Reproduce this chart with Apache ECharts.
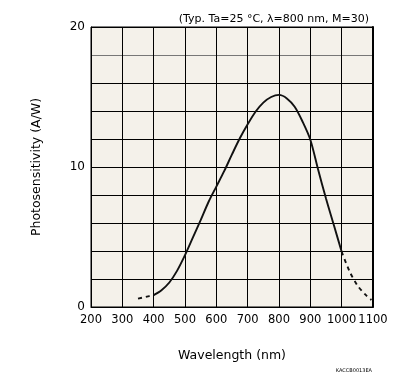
<!DOCTYPE html>
<html><head><meta charset="utf-8">
<script src="https://cdn.jsdelivr.net/npm/echarts@6/dist/echarts.min.js"></script>
<style>html,body{margin:0;padding:0;background:#fff}#c{width:396px;height:380px}</style>
</head><body><div id="c"></div>
<script>
const solidWavelength = [400,425,450,475,500,525,550,575,600,625,650,675,700,725,750,775,800,825,850,875,900,925,950,975,1000];
const solidValue =      [0.85,1.2,1.75,2.6,3.7,4.95,6.2,7.5,8.6,9.7,10.9,12.05,13.05,13.95,14.6,15.0,15.15,14.9,14.3,13.25,11.95,9.8,7.75,5.85,3.95];
const leftDashWavelength = [350,375,400];
const leftDashValue = [0.6,0.72,0.85];
const rightDashWavelength = [1000,1025,1050,1075,1095];
const rightDashValue = [3.95,2.55,1.55,0.9,0.5];
const xTicks = [200,300,400,500,600,700,800,900,1000,1100];
const yLabelTicks = [0,10,20];

const pairs = (xs, ys) => xs.map((x, i) => [x, ys[i]]);
const font = "'DejaVu Sans', Verdana, sans-serif";
const gridColors = ['#000','#000','#000','#000','#000','#000','#000','#000','#000','#777','#000'];

const chart = echarts.init(document.getElementById('c'), null, {renderer: 'canvas'});
chart.setOption({
  animation: false,
  backgroundColor: '#fff',
  title: {
    text: '(Typ. Ta=25 °C, λ=800 nm, M=30)',
    right: 22, top: 9,
    textStyle: {fontFamily: font, fontSize: 11, fontWeight: 'normal', color: '#000'}
  },
  graphic: [{
    type: 'text', right: 24, top: 368,
    style: {text: 'KACCB0013EA', font: '5px ' + font, fill: '#000'}
  }],
  grid: {left: 91, right: 23, top: 27, bottom: 73, show: true, backgroundColor: '#f4f1ea', borderColor: '#000', borderWidth: 1},
  xAxis: {
    type: 'value', min: 200, max: 1100, interval: 100,
    name: 'Wavelength (nm)', nameLocation: 'middle', nameGap: 42,
    nameTextStyle: {fontFamily: font, fontSize: 12.5, color: '#000'},
    axisLine: {show: true, lineStyle: {color: '#000', width: 1}},
    axisTick: {show: false},
    axisLabel: {fontFamily: font, fontSize: 11.5, color: '#000', margin: 7,
      showMinLabel: true, showMaxLabel: true, hideOverlap: false,
      formatter: v => xTicks.includes(v) ? String(v) : ''},
    splitLine: {show: true, lineStyle: {color: '#000', width: 1}}
  },
  yAxis: [{
    type: 'value', min: 0, max: 20, interval: 2,
    name: 'Photosensitivity (A/W)', nameLocation: 'middle', nameGap: 48,
    nameTextStyle: {fontFamily: font, fontSize: 12.5, color: '#000'},
    axisLine: {show: true, lineStyle: {color: '#000', width: 1}},
    axisTick: {show: false},
    axisLabel: {fontFamily: font, fontSize: 12, color: '#000', margin: 6,
      showMinLabel: true, showMaxLabel: true,
      formatter: v => yLabelTicks.includes(v) ? String(v) : ''},
    splitLine: {show: true, lineStyle: {color: gridColors, width: 1}}
  }, {
    type: 'value', min: 0, max: 20, position: 'right',
    axisLine: {show: true, lineStyle: {color: '#000', width: 2}},
    axisTick: {show: false}, axisLabel: {show: false}, splitLine: {show: false}
  }],
  series: [{
    type: 'line', data: pairs(solidWavelength, solidValue), smooth: 0.3,
    showSymbol: false, lineStyle: {color: '#111', width: 1.9}
  }, {
    type: 'line', data: pairs(leftDashWavelength, leftDashValue), smooth: 0.3,
    showSymbol: false, lineStyle: {color: '#111', width: 1.9, type: [4, 4]}
  }, {
    type: 'line', data: pairs(rightDashWavelength, rightDashValue), smooth: 0.3,
    showSymbol: false, lineStyle: {color: '#111', width: 1.9, type: [4, 4]}
  }]
});
</script></body></html>
